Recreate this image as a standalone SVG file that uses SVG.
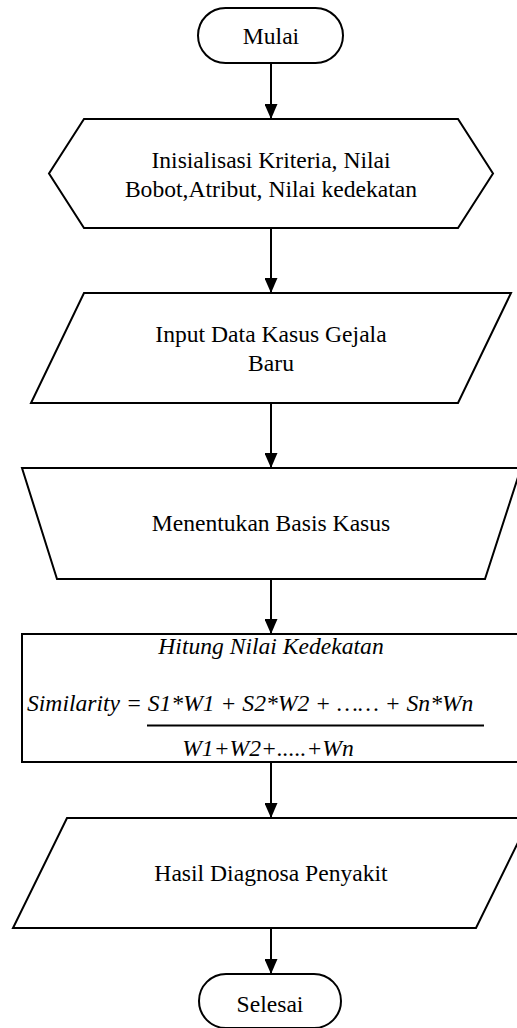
<svg xmlns="http://www.w3.org/2000/svg" width="517" height="1028" viewBox="0 0 517 1028">
<defs>
<style>
.s{fill:#fff;stroke:#000;stroke-width:2;stroke-linejoin:miter}
.t{font-size:23.6px;fill:#000;text-anchor:middle}
.i{font-style:italic}
.c{stroke:#000;stroke-width:2;fill:none;marker-end:url(#ah)}
</style>
<marker id="ah" markerWidth="15" markerHeight="13" refX="15" refY="6.5" orient="auto" markerUnits="userSpaceOnUse" viewBox="0 0 15 13">
<path d="M0,0 L15,6.5 L0,13 Z" fill="#000"/>
</marker>
</defs>
<rect width="517" height="1028" fill="#fff"/>
<g id="connectors">
<line class="c" x1="271" y1="63" x2="271" y2="119"/>
<line class="c" x1="271" y1="228" x2="271" y2="293"/>
<line class="c" x1="271" y1="403" x2="271" y2="468"/>
<line class="c" x1="271" y1="579" x2="271" y2="634"/>
<line class="c" x1="271" y1="762" x2="271" y2="818"/>
<line class="c" x1="271" y1="928" x2="271" y2="974"/>
</g>
<g font-family="Liberation Serif, Times New Roman, serif">
<g id="mulai">
<rect class="s" x="198" y="8" width="145" height="55" rx="27.5"/>
<text class="t" x="271" y="44">Mulai</text>
</g>
<g id="inisialisasi">
<polygon class="s" points="84,119 458,119 493,173.5 458,228 84,228 49,173.5"/>
<text class="t" x="271" y="168">Inisialisasi Kriteria, Nilai</text>
<text class="t" x="271" y="197">Bobot,Atribut, Nilai kedekatan</text>
</g>
<g id="input">
<polygon class="s" points="84,293 511,293 458,403 31,403"/>
<text class="t" x="271" y="342">Input Data Kasus Gejala</text>
<text class="t" x="271" y="371">Baru</text>
</g>
<g id="basis">
<polygon class="s" points="22,468 521,468 485,579 57,579"/>
<text class="t" x="271" y="531">Menentukan Basis Kasus</text>
</g>
<g id="hitung">
<rect class="s" x="22" y="634" width="500" height="128"/>
<text class="t i" x="271" y="654">Hitung Nilai Kedekatan</text>
<text class="t i" x="27" y="711" style="text-anchor:start">Similarity = S1*W1 + S2*W2 + …… + Sn*Wn</text>
<line x1="147" y1="725.5" x2="484" y2="725.5" stroke="#000" stroke-width="2"/>
<text class="t i" x="268" y="756">W1+W2+.....+Wn</text>
</g>
<g id="hasil">
<polygon class="s" points="67,818 530,818 476,928 13,928"/>
<text class="t" x="271" y="881">Hasil Diagnosa Penyakit</text>
</g>
<g id="selesai">
<rect class="s" x="199" y="974" width="142" height="54" rx="27"/>
<text class="t" x="270" y="1012">Selesai</text>
</g>
</g>
</svg>
